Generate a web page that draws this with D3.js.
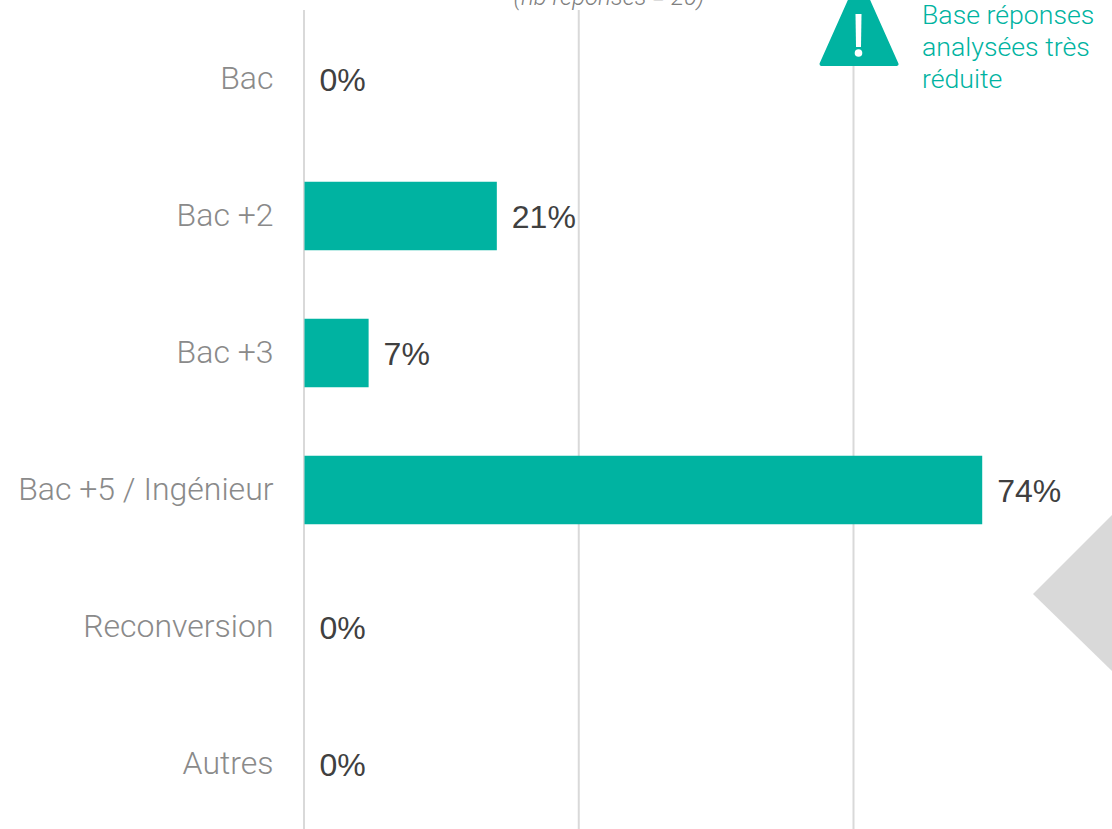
<!DOCTYPE html>
<html><head><meta charset="utf-8">
<script src="https://cdn.jsdelivr.net/npm/d3@7"></script>
<style>html,body{margin:0;padding:0;background:#fff;overflow:hidden}svg{display:block}</style>
</head><body><svg id="c" width="1112" height="829"></svg>
<script>
const categories=["Bac","Bac +2","Bac +3","Bac +5 / Ingénieur","Reconversion","Autres"];
const values=[0,21,7,74,0,0];
const gridTicks=[0,30,60];
const noteLines=["Base réponses","analysées très","réduite"];
const subtitle="(nb réponses = 20)";
const teal="#00B3A1";
const svg=d3.select("#c");
const x=d3.scaleLinear().domain([0,60]).range([304.5,854]);
const y=d3.scaleBand().domain(categories).range([10.5,832.5]).paddingInner(0.5).paddingOuter(0.25);
svg.selectAll(".grid").data(gridTicks).join("line").attr("class","grid")
 .attr("x1",d=>x(d)-0.5).attr("x2",d=>x(d)-0.5).attr("y1",10).attr("y2",829)
 .attr("stroke","#D9D9D9").attr("stroke-width",2);
svg.selectAll(".bar").data(values).join("rect").attr("class","bar")
 .attr("x",x(0)).attr("y",(d,i)=>y(categories[i])).attr("width",d=>x(d)-x(0)).attr("height",y.bandwidth())
 .attr("fill",teal);
svg.selectAll(".cat").data(categories).join("text").attr("class","cat")
 .attr("x",273.5).attr("y",d=>y(d)+y.bandwidth()/2+10).attr("text-anchor","end")
 .attr("font-family","Roboto").attr("font-weight",300).attr("font-size",32).attr("fill","#8A8A8A").text(d=>d);
svg.selectAll(".val").data(values).join("text").attr("class","val")
 .attr("x",d=>x(d)+15).attr("y",(d,i)=>y(categories[i])+y.bandwidth()/2+12)
 .attr("font-family","Liberation Sans").attr("font-size",32).attr("fill","#404040").text(d=>d+"%");
svg.append("text").attr("x",609).attr("y",5).attr("text-anchor","middle")
 .attr("font-family","Roboto").attr("font-weight",300).attr("font-style","italic").attr("font-size",24).attr("fill","#7F7F7F").text(subtitle);
const icon=svg.append("g");
icon.append("path").attr("d",d3.line()([[859,-20],[896.5,64],[821.5,64]])+"Z").attr("fill",teal).attr("stroke",teal).attr("stroke-width",4).attr("stroke-linejoin","round");
icon.append("path").attr("d",d3.line()([[855.5,14],[861.5,14],[861,47],[856,47]])+"Z").attr("fill","#fff");
icon.append("circle").attr("cx",858.5).attr("cy",53).attr("r",3.8).attr("fill","#fff");
svg.selectAll(".note").data(noteLines).join("text").attr("class","note")
 .attr("x",922).attr("y",(d,i)=>23.5+i*32)
 .attr("font-family","Roboto").attr("font-weight",300).attr("font-size",26.7).attr("fill","#00B3A1").text(d=>d);
svg.append("path").attr("d",d3.line()([[1112,515],[1033,594],[1112,671]])+"Z").attr("fill","#D9D9D9");
</script></body></html>
